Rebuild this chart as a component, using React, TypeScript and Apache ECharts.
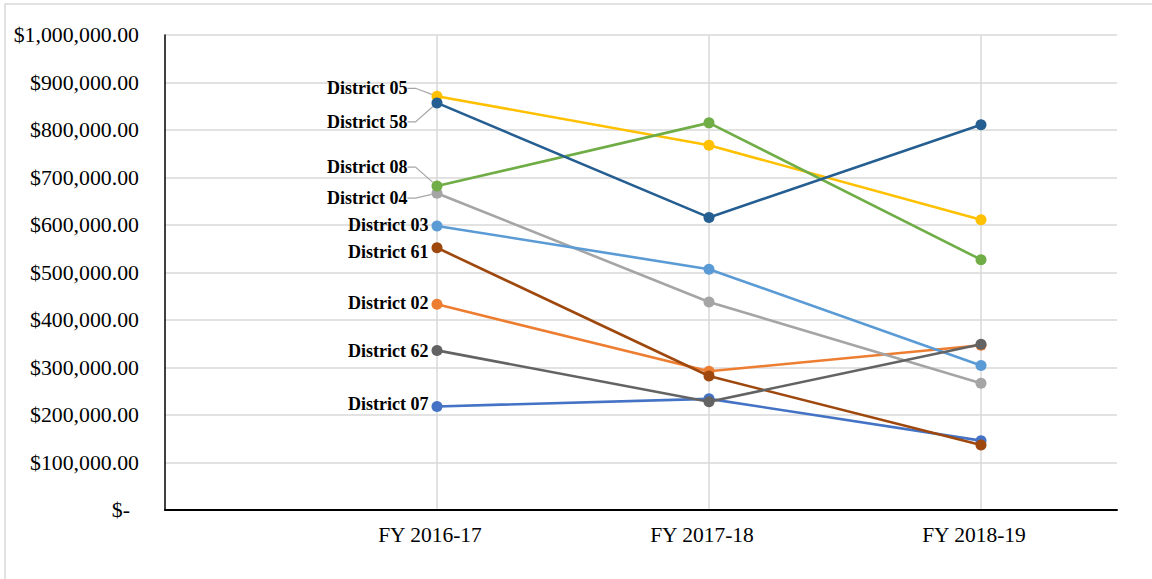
import React, { useEffect, useRef } from "react";
import * as echarts from "echarts";

const categories = ["FY 2016-17", "FY 2017-18", "FY 2018-19"];
const yTicks = [0, 100000, 200000, 300000, 400000, 500000, 600000, 700000, 800000, 900000, 1000000];

const districtNames = [
  "District 07",
  "District 02",
  "District 04",
  "District 05",
  "District 03",
  "District 08",
  "District 61",
  "District 62",
  "District 58",
];
const district07 = [218000, 234000, 146000];
const district02 = [433000, 292000, 347000];
const district04 = [667000, 438000, 267000];
const district05 = [871000, 768000, 611000];
const district03 = [598000, 507000, 304000];
const district08 = [682000, 815000, 527000];
const district61 = [552000, 282000, 137000];
const district62 = [336000, 228000, 349000];
const district58 = [857000, 616000, 811000];

const seriesValues = [
  district07,
  district02,
  district04,
  district05,
  district03,
  district08,
  district61,
  district62,
  district58,
];
const seriesColors = [
  "#4472C4",
  "#ED7D31",
  "#A5A5A5",
  "#FFC000",
  "#5B9BD5",
  "#70AD47",
  "#9E480E",
  "#636363",
  "#255E91",
];
// label shift (dx, dy) relative to default left-of-point placement
const labelShift: Record<string, [number, number]> = {
  "District 05": [-21, -8],
  "District 58": [-21, 19],
  "District 08": [-21, -19],
  "District 04": [-21, 5],
  "District 61": [0, 4],
  "District 07": [0, -2],
  "District 02": [0, -1],
  "District 62": [0, 1],
  "District 03": [0, -1],
};

const SERIF = "'Liberation Serif', 'Times New Roman', serif";

function fmtMoney(v: number): string {
  if (v === 0) return "{z|$-}";
  return "$" + v.toLocaleString("en-US", { minimumFractionDigits: 2, maximumFractionDigits: 2 });
}

export default function App() {
  const ref = useRef<HTMLDivElement>(null);
  useEffect(() => {
    if (!ref.current) return;
    const chart = echarts.init(ref.current, null, { renderer: "svg" });
    const series = districtNames.map((name, si) => {
      const shift = labelShift[name] || [0, 0];
      const moved = shift[0] !== 0;
      return {
        name,
        type: "line",
        data: seriesValues[si].map((v, i) =>
          i === 0
            ? { value: [i + 1, v], label: { show: true } }
            : { value: [i + 1, v] }
        ),
        symbol: "circle",
        symbolSize: 11,
        lineStyle: { width: 2.6, color: seriesColors[si] },
        itemStyle: { color: seriesColors[si] },
        label: {
          show: false,
          position: "left",
          distance: 3,
          formatter: name,
          fontFamily: SERIF,
          fontWeight: "bold",
          fontSize: 18,
          color: "#000",
        },
        labelLayout: { dx: shift[0], dy: shift[1] },
        labelLine: {
          show: moved,
          length2: 8,
          lineStyle: { color: "#A6A6A6", width: 1.2 },
        },
        z: 2 + si,
      };
    });
    chart.setOption({
      animation: false,
      backgroundColor: "#fff",
      graphic: [
        {
          type: "rect",
          shape: { x: 5, y: 4, width: 1200, height: 640 },
          style: { fill: "none", stroke: "#D9D9D9", lineWidth: 1.5 },
          z: -10,
          silent: true,
        },
      ],
      grid: { left: 165, right: 35, top: 35, bottom: 69, containLabel: false },
      xAxis: {
        type: "value",
        min: 0,
        max: 3.5,
        interval: 1,
        axisLine: { show: true, onZero: false, lineStyle: { color: "#000", width: 2 } },
        axisTick: { show: false },
        splitLine: {
          show: true,
          showMinLine: false,
          showMaxLine: false,
          lineStyle: { color: "#D9D9D9", width: 1.5 },
        },
        axisLabel: {
          margin: 14,
          fontFamily: SERIF,
          fontSize: 21.5,
          color: "#000",
          padding: [0, 14, 0, 0],
          showMaxLabel: false,
          formatter: (v: number) => (Number.isInteger(v) && v >= 1 && v <= 3 ? categories[v - 1] : ""),
        },
      },
      yAxis: {
        type: "value",
        min: yTicks[0],
        max: yTicks[yTicks.length - 1],
        interval: yTicks[1] - yTicks[0],
        axisLine: { show: true, lineStyle: { color: "#000", width: 1.5 } },
        axisTick: { show: false },
        splitLine: { show: true, lineStyle: { color: "#D9D9D9", width: 1.5 } },
        axisLabel: {
          margin: 26,
          fontFamily: SERIF,
          fontSize: 21.8,
          color: "#000",
          formatter: (v: number) => fmtMoney(v),
          rich: {
            z: { fontFamily: SERIF, fontSize: 21.8, color: "#000", padding: [0, 9, 0, 0] },
          },
        },
      },
      series,
    });
    return () => chart.dispose();
  }, []);
  return (
    <div
      ref={ref}
      style={{ position: "fixed", left: 0, top: 0, width: 1152, height: 579, background: "#fff" }}
    />
  );
}
